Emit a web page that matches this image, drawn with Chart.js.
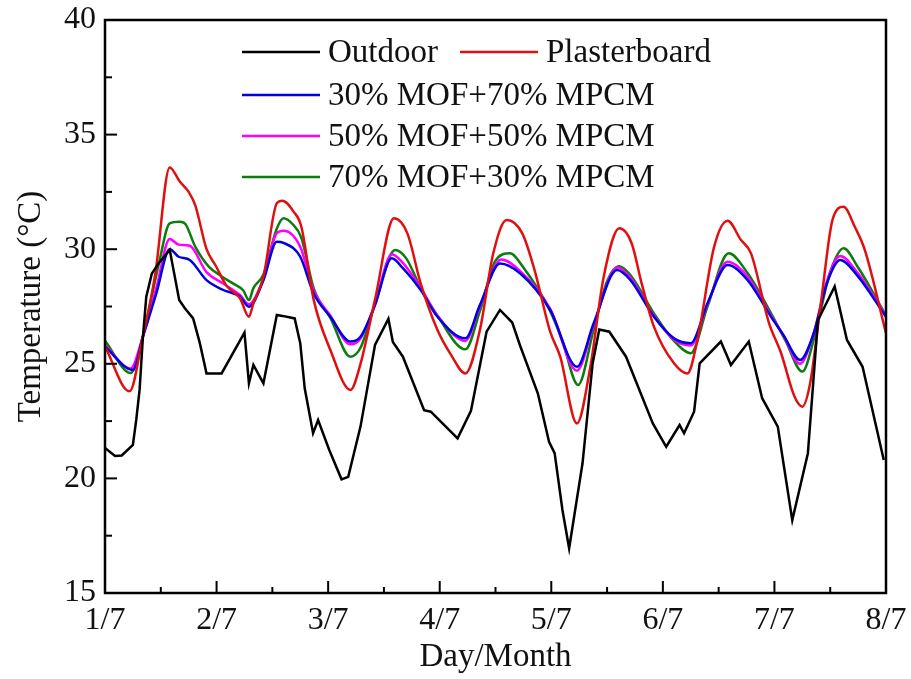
<!DOCTYPE html>
<html>
<head>
<meta charset="utf-8">
<script src="https://cdn.jsdelivr.net/npm/chart.js@4.4.1/dist/chart.umd.min.js"></script>
<style>
  html, body { margin: 0; padding: 0; background: #fff; }
  #wrap { width: 911px; height: 679px; }
</style>
</head>
<body>
<div id="wrap"><canvas id="tempChart"></canvas></div>
<script>
// data, x = days since 1/7
const dayLabels = ['1/7', '2/7', '3/7', '4/7', '5/7', '6/7', '7/7', '8/7'];

const outdoorDay = [0, 0.09, 0.15, 0.25, 0.28, 0.31, 0.34, 0.37, 0.42, 0.48, 0.58, 0.665, 0.716, 0.79, 0.85, 0.91, 1.045, 1.25, 1.29, 1.33, 1.42, 1.54, 1.59, 1.70, 1.75, 1.79, 1.865, 1.91, 2.01, 2.12, 2.18, 2.29, 2.42, 2.54, 2.58, 2.67, 2.86, 2.92, 3.16, 3.28, 3.42, 3.54, 3.65, 3.72, 3.88, 3.98, 4.03, 4.10, 4.16, 4.28, 4.37, 4.43, 4.52, 4.67, 4.91, 5.03, 5.15, 5.19, 5.28, 5.33, 5.52, 5.61, 5.77, 5.89, 6.03, 6.16, 6.30, 6.39, 6.54, 6.65, 6.79, 6.98];
const outdoorTemp = [21.33, 20.98, 21.0, 21.46, 22.55, 23.86, 26.18, 27.93, 28.94, 29.38, 29.97, 27.78, 27.42, 26.98, 25.9, 24.58, 24.58, 26.36, 24.15, 24.95, 24.15, 27.13, 27.09, 26.98, 25.9, 23.93, 21.97, 22.55, 21.24, 19.96, 20.07, 22.26, 25.82, 26.96, 25.95, 25.31, 22.98, 22.91, 21.75, 22.95, 26.4, 27.35, 26.8, 25.8, 23.7, 21.6, 21.1, 18.62, 16.95, 20.66, 25.0, 26.5, 26.4, 25.31, 22.4, 21.38, 22.33, 21.97, 22.91, 25.02, 25.97, 24.95, 25.97, 23.5, 22.26, 18.18, 21.1, 26.9, 28.37, 26.04, 24.87, 20.8];

const plasterDay = [0, 0.22, 0.34, 0.45, 0.58, 0.67, 0.75, 0.81, 0.91, 0.99, 1.09, 1.21, 1.29, 1.33, 1.42, 1.54, 1.59, 1.69, 1.76, 1.87, 2.02, 2.20, 2.29, 2.42, 2.59, 2.71, 2.83, 2.98, 3.10, 3.23, 3.36, 3.48, 3.60, 3.74, 3.85, 3.99, 4.08, 4.23, 4.35, 4.47, 4.61, 4.72, 4.81, 4.92, 5.10, 5.22, 5.31, 5.46, 5.58, 5.70, 5.79, 5.95, 6.06, 6.18, 6.25, 6.32, 6.42, 6.52, 6.62, 6.72, 6.81, 7.0];
const plasterTemp = [25.75, 23.8, 26.2, 28.9, 33.57, 32.95, 32.5, 31.9, 30.0, 29.3, 28.4, 27.86, 27.05, 27.64, 28.8, 32.0, 32.11, 31.64, 30.98, 27.8, 25.6, 23.86, 25.0, 27.8, 31.35, 30.69, 28.5, 26.47, 25.4, 24.58, 26.47, 29.82, 31.27, 30.69, 29.09, 26.4, 25.31, 22.4, 24.87, 28.8, 30.91, 30.26, 28.51, 26.62, 25.02, 24.58, 26.04, 30.11, 31.24, 30.4, 29.82, 26.8, 25.46, 23.57, 23.13, 24.15, 27.78, 31.27, 31.85, 30.98, 29.97, 26.33];

const mof30Day = [0, 0.25, 0.34, 0.46, 0.58, 0.66, 0.76, 0.91, 1.06, 1.21, 1.29, 1.42, 1.54, 1.60, 1.75, 1.87, 2.02, 2.20, 2.29, 2.42, 2.57, 2.67, 2.83, 2.98, 3.23, 3.36, 3.54, 3.72, 3.99, 4.23, 4.38, 4.59, 4.71, 4.92, 5.10, 5.25, 5.40, 5.58, 5.76, 5.97, 6.08, 6.23, 6.35, 6.47, 6.59, 6.74, 7.0];
const mof30Temp = [25.75, 24.73, 26.18, 28.07, 30.0, 29.67, 29.53, 28.65, 28.22, 27.93, 27.49, 28.65, 30.33, 30.28, 29.67, 28.07, 27.05, 25.97, 26.18, 27.56, 29.6, 29.17, 28.22, 27.05, 26.11, 27.56, 29.38, 28.95, 27.35, 24.87, 26.77, 29.09, 28.65, 27.05, 26.11, 25.9, 27.64, 29.31, 28.65, 27.05, 26.26, 25.17, 26.3, 28.51, 29.53, 28.87, 27.05];

const mof50Day = [0, 0.23, 0.34, 0.46, 0.58, 0.66, 0.76, 0.91, 1.06, 1.21, 1.29, 1.42, 1.54, 1.60, 1.75, 1.87, 2.02, 2.20, 2.29, 2.42, 2.57, 2.67, 2.83, 2.98, 3.23, 3.36, 3.55, 3.72, 3.99, 4.23, 4.38, 4.59, 4.71, 4.92, 5.10, 5.25, 5.40, 5.58, 5.76, 5.97, 6.08, 6.23, 6.35, 6.47, 6.59, 6.74, 7.0];
const mof50Temp = [25.8, 24.8, 26.2, 28.3, 30.45, 30.2, 30.15, 29.0, 28.5, 28.0, 27.6, 28.7, 30.7, 30.8, 30.1, 28.2, 27.1, 25.85, 26.1, 27.6, 29.78, 29.4, 28.3, 27.1, 26.0, 27.5, 29.55, 29.05, 27.4, 24.7, 26.7, 29.2, 28.75, 27.1, 26.05, 25.8, 27.6, 29.45, 28.8, 27.1, 26.25, 25.0, 26.3, 28.6, 29.7, 29.0, 27.1];

const mof70Day = [0, 0.23, 0.34, 0.48, 0.58, 0.67, 0.72, 0.81, 0.93, 1.05, 1.15, 1.24, 1.29, 1.33, 1.42, 1.54, 1.60, 1.68, 1.76, 1.87, 2.02, 2.20, 2.29, 2.42, 2.60, 2.70, 2.83, 2.98, 3.23, 3.36, 3.50, 3.63, 3.75, 3.99, 4.10, 4.24, 4.38, 4.50, 4.61, 4.72, 4.92, 5.10, 5.25, 5.40, 5.59, 5.76, 5.97, 6.10, 6.25, 6.36, 6.50, 6.62, 6.75, 7.0];
const mof70Temp = [26.0, 24.6, 26.2, 29.3, 31.13, 31.2, 31.1, 30.1, 29.24, 28.8, 28.5, 28.2, 27.78, 28.3, 28.9, 30.9, 31.35, 31.1, 30.5, 28.3, 27.0, 25.31, 25.7, 27.6, 29.97, 29.6, 28.3, 27.1, 25.63, 27.3, 29.5, 29.82, 29.2, 27.3, 26.0, 24.08, 26.5, 28.6, 29.26, 28.8, 27.2, 26.0, 25.46, 27.5, 29.82, 28.95, 27.2, 26.0, 24.66, 26.2, 29.0, 30.04, 29.2, 27.1];

const seriesNames = ['Outdoor', 'Plasterboard', '30% MOF+70% MPCM', '50% MOF+50% MPCM', '70% MOF+30% MPCM'];
const seriesColors = ['#000000', '#e01010', '#0000e0', '#ff00ff', '#0a7d0a'];

const FONT = 'Liberation Serif, Times New Roman, serif';

function pts(xs, ys) {
  return xs.map((x, i) => ({ x: x, y: ys[i] }));
}

// inward ticks + frame like the original plot
const frameTicks = {
  id: 'frameTicks',
  afterDraw(chart) {
    const ctx = chart.ctx;
    const a = chart.chartArea;
    const xs = chart.scales.x, ys = chart.scales.y;
    ctx.save();
    ctx.strokeStyle = '#000';
    ctx.lineWidth = 2.5;
    ctx.strokeRect(a.left, a.top, a.right - a.left, a.bottom - a.top);
    ctx.lineWidth = 2;
    for (let v = 0.5; v < 7; v += 0.5) {
      const px = xs.getPixelForValue(v);
      const len = Number.isInteger(v) ? 12 : 6;
      ctx.beginPath();
      ctx.moveTo(px, a.bottom);
      ctx.lineTo(px, a.bottom - len);
      ctx.stroke();
    }
    for (let v = 17.5; v < 40; v += 2.5) {
      const py = ys.getPixelForValue(v);
      const len = (v % 5 === 0) ? 12 : 7;
      ctx.beginPath();
      ctx.moveTo(a.left, py);
      ctx.lineTo(a.left + len, py);
      ctx.stroke();
    }
    ctx.restore();
  }
};

// legend drawn inside the plot, 2 items in the first row
const insideLegend = {
  id: 'insideLegend',
  afterDatasetsDraw(chart) {
    const ctx = chart.ctx;
    const slots = [[242, 52], [460, 52], [242, 95], [242, 136], [242, 177]];
    ctx.save();
    ctx.font = '33px ' + FONT;
    ctx.textBaseline = 'middle';
    ctx.fillStyle = '#111';
    chart.data.datasets.forEach((ds, i) => {
      const [lx, ly] = slots[i];
      ctx.strokeStyle = ds.borderColor;
      ctx.lineWidth = 2.5;
      ctx.beginPath();
      ctx.moveTo(lx, ly);
      ctx.lineTo(lx + 78, ly);
      ctx.stroke();
      ctx.fillText(ds.label, lx + 86, ly + 1);
    });
    ctx.restore();
  }
};

const dataSets = [
  [outdoorDay, outdoorTemp],
  [plasterDay, plasterTemp],
  [mof30Day, mof30Temp],
  [mof50Day, mof50Temp],
  [mof70Day, mof70Temp]
];

const chartCtx = document.getElementById('tempChart').getContext('2d');
new Chart(chartCtx, {
  type: 'line',
  data: {
    datasets: dataSets.map((d, i) => ({
      label: seriesNames[i],
      data: pts(d[0], d[1]),
      borderColor: seriesColors[i],
      borderWidth: 2.5,
      pointRadius: 0,
      fill: false,
      tension: 0,
      cubicInterpolationMode: i === 0 ? 'default' : 'monotone'
    }))
  },
  options: {
    responsive: true,
    maintainAspectRatio: false,
    animation: false,
    layout: { padding: { top: 20, right: 25, left: 0, bottom: 0 } },
    plugins: {
      legend: { display: false },
      tooltip: { enabled: false }
    },
    scales: {
      x: {
        type: 'linear',
        min: 0,
        max: 7,
        grid: { display: false, drawTicks: false },
        border: { display: false },
        ticks: {
          stepSize: 1,
          autoSkip: false,
          maxRotation: 0,
          padding: 8,
          color: '#111',
          font: { family: FONT, size: 32 },
          callback: v => dayLabels[v] || ''
        },
        title: {
          display: true,
          text: 'Day/Month',
          color: '#111',
          padding: { top: 0, bottom: 2 },
          font: { family: FONT, size: 33 }
        },
        afterFit(scale) {
          scale.height = 86;
          scale.paddingLeft = 0;
          scale.paddingRight = 0;
        }
      },
      y: {
        min: 15,
        max: 40,
        grid: { display: false, drawTicks: false },
        border: { display: false },
        ticks: {
          stepSize: 5,
          padding: 9,
          color: '#111',
          font: { family: FONT, size: 32 }
        },
        title: {
          display: true,
          text: 'Temperature (°C)',
          color: '#111',
          padding: { top: 12, bottom: 4 },
          font: { family: FONT, size: 33 }
        },
        afterFit(scale) {
          scale.width = 105;
          scale.paddingTop = 0;
          scale.paddingBottom = 0;
        }
      }
    }
  },
  plugins: [frameTicks, insideLegend]
});
</script>
</body>
</html>
